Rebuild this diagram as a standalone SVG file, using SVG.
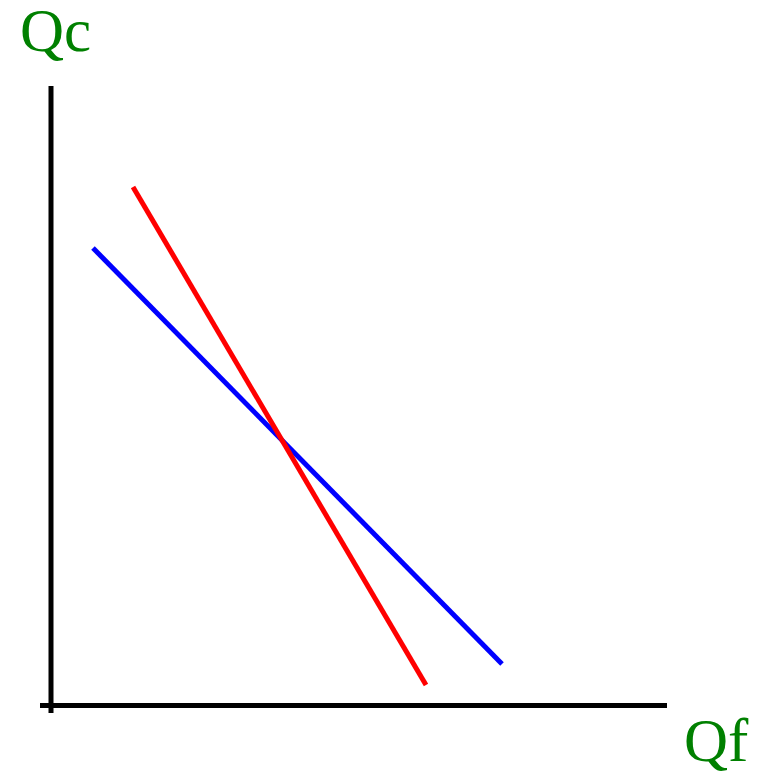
<svg xmlns="http://www.w3.org/2000/svg" width="765" height="776" viewBox="0 0 765 776">
<style>
.lbl{font-family:"Liberation Serif","Times New Roman",serif;font-size:61px;fill:#008000}
.axis{stroke:#000;stroke-width:5;fill:none}
.curve{stroke-width:5;fill:none}
</style>
<rect width="765" height="776" fill="#fff"/>
<g id="axes">
<line class="axis" x1="51" y1="86" x2="51" y2="713"/>
<line class="axis" x1="40" y1="705.500" x2="667" y2="705.500"/>
</g>
<g id="connectors">
<line class="curve" stroke="#0000ff" x1="93" y1="248" x2="502" y2="664"/>
<line class="curve" stroke="#ff0000" x1="133" y1="187" x2="426" y2="685"/>
</g>
<g id="label-qc"><text class="lbl" x="20" y="51">Qc</text></g>
<g id="label-qf"><text class="lbl" x="684" y="761">Qf</text></g>
</svg>
